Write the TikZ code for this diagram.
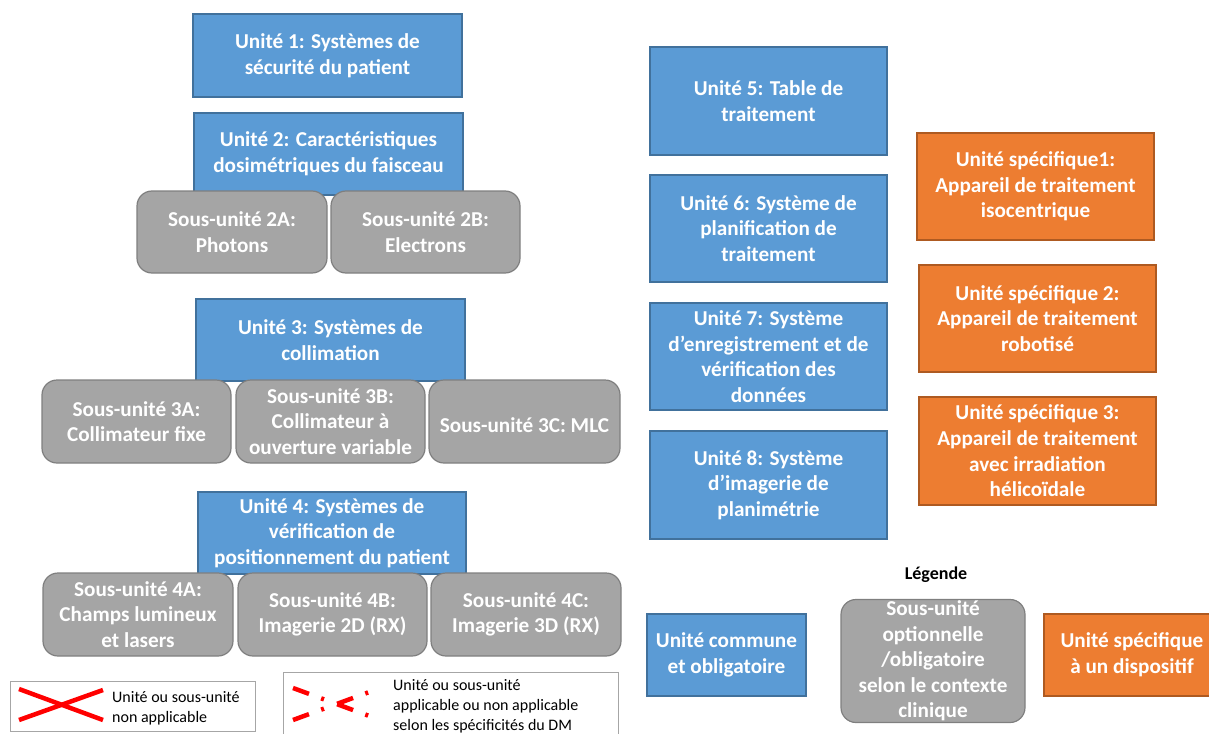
\documentclass[tikz,border=0pt]{standalone}
\usepackage{fontspec}
\setmainfont{Carlito}
\definecolor{blueu}{HTML}{5B9BD5}
\definecolor{bluedk}{HTML}{41719C}
\definecolor{greyu}{HTML}{A5A5A5}
\definecolor{greydk}{HTML}{7F7F7F}
\definecolor{orangeu}{HTML}{ED7D31}
\definecolor{orangedk}{HTML}{AE5A21}
\definecolor{framegrey}{HTML}{A6A6A6}
\tikzset{
  box/.style={line width=1.2pt, text=white, align=center, inner sep=1pt,
    font=\bfseries\fontsize{21.2}{25.6}\selectfont,
    execute at begin node={\rule{0pt}{23pt}}},
  common/.style={box, draw=bluedk, fill=blueu},
  subunit/.style={box, draw=greydk, fill=greyu, rounded corners=15pt},
  specific/.style={box, draw=orangedk, fill=orangeu},
  legtext/.style={anchor=west, align=left, inner sep=0pt, text=black,
    font=\fontsize{16}{20}\selectfont},
  legframe/.style={draw=framegrey, line width=1pt},
  nocross/.style={draw=red, line width=4.5pt},
  maybecross/.style={draw=red, line width=4.5pt, dash pattern=on 17pt off 13pt on 3pt off 14pt}
}
\begin{document}
\begin{tikzpicture}[x=1pt, y=-1pt]
\clip (0,0) rectangle (1209,733);

% common units, left column, with their sub-units
\node[common, minimum width=269pt, minimum height=83pt] (u1) at (327.5,55.5) {Unité 1: Systèmes de\\sécurité du patient};

\node[common, minimum width=269pt, minimum height=82pt] (u2) at (328.5,154) {Unité 2: Caractéristiques\\dosimétriques du faisceau};
\node[subunit, minimum width=190pt, minimum height=82pt] (s2a) at (232,232) {Sous-unité 2A:\\Photons};
\node[subunit, minimum width=189pt, minimum height=82pt] (s2b) at (425.5,232) {Sous-unité 2B:\\Electrons};

\node[common, minimum width=269pt, minimum height=82pt] (u3) at (330.5,340) {Unité 3: Systèmes de\\collimation};
\node[subunit, minimum width=189pt, minimum height=83pt] (s3a) at (136.5,421.5) {Sous-unité 3A:\\Collimateur fixe};
\node[subunit, minimum width=189pt, minimum height=83pt] (s3b) at (330.5,421.5) {Sous-unité 3B:\\Collimateur à\\ouverture variable};
\node[subunit, minimum width=191pt, minimum height=83pt] (s3c) at (524.5,421.5) {Sous-unité 3C: MLC};

\node[common, minimum width=268pt, minimum height=82pt] (u4) at (332,533) {Unité 4: Systèmes de\\vérification de\\positionnement du patient};
\node[subunit, minimum width=190pt, minimum height=83pt] (s4a) at (138,614.5) {Sous-unité 4A:\\Champs lumineux\\et lasers};
\node[subunit, minimum width=189pt, minimum height=83pt] (s4b) at (332.5,614.5) {Sous-unité 4B:\\Imagerie 2D (RX)};
\node[subunit, minimum width=190pt, minimum height=83pt] (s4c) at (526,614.5) {Sous-unité 4C:\\Imagerie 3D (RX)};

% common units, middle column
\node[common, minimum width=237pt, minimum height=108pt] (u5) at (768.5,101) {Unité 5: Table de\\traitement};
\node[common, minimum width=237pt, minimum height=107pt] (u6) at (768.5,228.5) {Unité 6: Système de\\planification de\\traitement};
\node[common, minimum width=237pt, minimum height=107pt] (u7) at (768.5,356.5) {Unité 7: Système\\d’enregistrement et de\\vérification des\\données};
\node[common, minimum width=237pt, minimum height=108pt] (u8) at (768.5,485) {Unité 8: Système\\d’imagerie de\\planimétrie};

% device-specific units
\node[specific, minimum width=237pt, minimum height=107pt] (sp1) at (1035.5,186.5) {Unité spécifique1:\\Appareil de traitement\\isocentrique};
\node[specific, minimum width=237pt, minimum height=107pt] (sp2) at (1037.5,318.5) {Unité spécifique 2:\\Appareil de traitement\\robotisé};
\node[specific, minimum width=237pt, minimum height=108pt] (sp3) at (1037.5,451) {Unité spécifique 3:\\Appareil de traitement\\avec irradiation\\hélicoïdale};

% colour legend
\node[text=black, font=\bfseries\fontsize{18}{22}\selectfont] (legtitle) at (936,575) {Légende};
\node[common, minimum width=159pt, minimum height=82pt] (legc) at (726.5,655) {Unité commune\\et obligatoire};
\node[subunit, inner sep=0pt, execute at begin node={}, minimum width=184pt, minimum height=123pt] (legs) at (933,661) {Sous-unité\\optionnelle\\/obligatoire\\selon le contexte\\clinique};
\node[specific, minimum width=176pt, minimum height=82pt] (lego) at (1132,655) {Unité spécifique\\à un dispositif};

% applicability legend
\draw[legframe] (10,681) rectangle (255,731);
\draw[nocross] (19,689) -- (103,720);
\draw[nocross] (19,720) -- (103,690);
\node[legtext] (lna) at (112,708) {Unité ou sous-unité\\non applicable};

\draw[legframe] (283,672) rectangle (618,745);
\draw[maybecross] (293,688) -- (372,717);
\draw[maybecross] (293,720) -- (372,691);
\node[legtext] (lmaybe) at (393,706) {Unité ou sous-unité\\applicable ou non applicable\\selon les spécificités du DM};
\end{tikzpicture}
\end{document}
